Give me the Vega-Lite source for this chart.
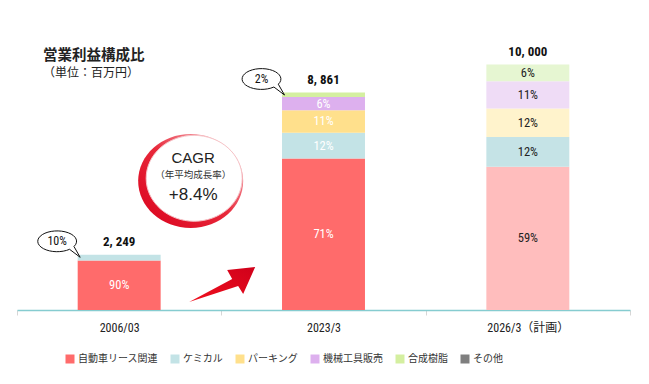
{
  "$schema": "https://vega.github.io/schema/vega-lite/v6.json",
  "width": 613,
  "height": 270,
  "autosize": "none",
  "padding": {"left": 17, "top": 40, "right": 19, "bottom": 74},
  "background": "white",
  "title": {
    "text": "営業利益構成比",
    "subtitle": "（単位：百万円）",
    "anchor": "start",
    "frame": "group",
    "font": "Noto Sans CJK JP",
    "fontSize": 14.5,
    "fontWeight": "bold",
    "color": "#222",
    "subtitleFont": "Noto Sans CJK JP",
    "subtitleFontSize": 12,
    "subtitleColor": "#222",
    "subtitlePadding": 5,
    "offset": 0,
    "dx": 26,
    "dy": 40
  },
  "config": {
    "view": {"stroke": null},
    "text": {"font": "Liberation Sans Narrow, Roboto Condensed, DejaVu Sans Condensed, Liberation Sans, Noto Sans CJK JP"}
  },
  "datasets": {
    "segments": [
      {"period": "2006/03", "category": "自動車リース関連", "series": "自動車リース関連", "rank": 1, "value": 2015, "label": "90%", "callout": ""},
      {"period": "2006/03", "category": "ケミカル", "series": "ケミカル", "rank": 2, "value": 234, "label": "", "callout": "10%"},
      {"period": "2023/3", "category": "自動車リース関連", "series": "自動車リース関連", "rank": 1, "value": 6175, "label": "71%", "callout": ""},
      {"period": "2023/3", "category": "ケミカル", "series": "ケミカル", "rank": 2, "value": 1051, "label": "12%", "callout": ""},
      {"period": "2023/3", "category": "パーキング", "series": "パーキング", "rank": 3, "value": 912, "label": "11%", "callout": ""},
      {"period": "2023/3", "category": "機械工具販売", "series": "機械工具販売", "rank": 4, "value": 543, "label": "6%", "callout": ""},
      {"period": "2023/3", "category": "合成樹脂", "series": "合成樹脂", "rank": 5, "value": 180, "label": "", "callout": "2%"},
      {"period": "2026/3（計画）", "category": "自動車リース関連", "series": "自動車リース関連（計画）", "rank": 1, "value": 5832, "label": "59%", "callout": ""},
      {"period": "2026/3（計画）", "category": "ケミカル", "series": "ケミカル（計画）", "rank": 2, "value": 1221, "label": "12%", "callout": ""},
      {"period": "2026/3（計画）", "category": "パーキング", "series": "パーキング（計画）", "rank": 3, "value": 1156, "label": "12%", "callout": ""},
      {"period": "2026/3（計画）", "category": "機械工具販売", "series": "機械工具販売（計画）", "rank": 4, "value": 1111, "label": "11%", "callout": ""},
      {"period": "2026/3（計画）", "category": "合成樹脂", "series": "合成樹脂（計画）", "rank": 5, "value": 680, "label": "6%", "callout": ""}
    ],
    "totals": [
      {"period": "2006/03", "total": 2249, "label": "2, 249"},
      {"period": "2023/3", "total": 8861, "label": "8, 861"},
      {"period": "2026/3（計画）", "total": 10000, "label": "10, 000"}
    ],
    "cagr": [
      {"period": "2006/03", "pos": 5255, "title": "CAGR", "note": "（年平均成長率）", "rate": "+8.4%"}
    ],
    "growth": [
      {"period": "2006/03", "pos": 1059}
    ]
  },
  "encoding": {
    "x": {
      "field": "period",
      "type": "nominal",
      "scale": {"domain": ["2006/03", "2023/3", "2026/3（計画）"], "paddingInner": 0, "paddingOuter": 0},
      "axis": {
        "title": null,
        "labelAngle": 0,
        "domainColor": "#86CCD0",
        "domainWidth": 1.5,
        "tickColor": "#d6d6d6",
        "tickSize": 5,
        "tickWidth": 1,
        "tickBand": "extent",
        "labelFont": "Liberation Sans Narrow, Roboto Condensed, DejaVu Sans Condensed, Liberation Sans, Noto Sans CJK JP",
        "labelFontSize": 12,
        "labelColor": "#222",
        "labelPadding": 7
      }
    }
  },
  "layer": [
    {
      "data": {"name": "segments"},
      "mark": {"type": "bar", "width": {"band": 0.406}},
      "encoding": {
        "y": {"field": "value", "type": "quantitative", "stack": "zero", "scale": {"domain": [0, 11000], "nice": false}, "axis": null},
        "color": {
          "field": "series",
          "type": "nominal",
          "scale": {
            "domain": ["自動車リース関連", "ケミカル", "パーキング", "機械工具販売", "合成樹脂", "その他", "自動車リース関連（計画）", "ケミカル（計画）", "パーキング（計画）", "機械工具販売（計画）", "合成樹脂（計画）"],
            "range": ["#FF6B6B", "#C3E3E6", "#FFE08C", "#DDB0EE", "#D4EFA0", "#7F7F7F", "#FFBDBD", "#C5E3E6", "#FFF3CC", "#EFDCF6", "#E6F6D2"]
          },
          "legend": {
            "values": ["自動車リース関連", "ケミカル", "パーキング", "機械工具販売", "合成樹脂", "その他"],
            "title": null,
            "orient": "none",
            "legendX": 48,
            "legendY": 314,
            "direction": "horizontal",
            "columns": 6,
            "padding": 0,
            "symbolType": "square",
            "symbolSize": 81,
            "symbolStrokeWidth": 0,
            "symbolOpacity": 1,
            "labelFont": "Noto Sans CJK JP",
            "labelFontSize": 10,
            "labelColor": "#333",
            "labelOffset": 3,
            "columnPadding": 12
          }
        },
        "order": {"field": "rank", "type": "quantitative"}
      }
    },
    {
      "data": {"name": "segments"},
      "transform": [
        {"stack": "value", "groupby": ["period"], "sort": [{"field": "rank", "order": "ascending"}], "as": ["v0", "v1"]},
        {"calculate": "(datum.v0 + datum.v1) / 2", "as": "mid"},
        {"filter": "datum.label != ''"}
      ],
      "mark": {"type": "text", "fontSize": 12.5, "baseline": "middle"},
      "encoding": {
        "y": {"field": "mid", "type": "quantitative"},
        "text": {"field": "label"},
        "color": {"condition": {"test": "indexof(datum.period, '計画') >= 0", "value": "#222"}, "value": "#ffffff"}
      }
    },
    {
      "data": {"name": "cagr"},
      "mark": {
        "type": "point",
        "shape": "M-1,0A1,0.895 0 1,1 1,0A1,0.895 0 1,1 -1,0Z",
        "size": 11025,
        "filled": true,
        "opacity": 1,
        "xOffset": 71.5,
        "fill": {"gradient": "linear", "x1": 0, "y1": 1, "x2": 1, "y2": 0, "stops": [{"offset": 0, "color": "#D9001B"}, {"offset": 0.5, "color": "#E8283A"}, {"offset": 1, "color": "#FBD6D9"}]},
        "strokeWidth": 0
      },
      "encoding": {"y": {"field": "pos", "type": "quantitative"}}
    },
    {
      "data": {"name": "cagr"},
      "mark": {
        "type": "point",
        "shape": "M-1,0A1,0.895 0 1,1 1,0A1,0.895 0 1,1 -1,0Z",
        "size": 9216,
        "filled": true,
        "opacity": 1,
        "fill": "#ffffff",
        "stroke": "#F6C4C8",
        "strokeWidth": 1,
        "xOffset": 75,
        "yOffset": -2.7
      },
      "encoding": {"y": {"field": "pos", "type": "quantitative"}}
    },
    {
      "data": {"name": "cagr"},
      "mark": {"type": "text", "font": "Liberation Sans", "fontSize": 15, "color": "#222", "xOffset": 74, "yOffset": -23.3, "baseline": "middle"},
      "encoding": {"y": {"field": "pos", "type": "quantitative"}, "text": {"field": "title"}}
    },
    {
      "data": {"name": "cagr"},
      "mark": {"type": "text", "font": "Noto Sans CJK JP", "fontSize": 9.5, "color": "#333", "xOffset": 74, "yOffset": -6, "baseline": "middle"},
      "encoding": {"y": {"field": "pos", "type": "quantitative"}, "text": {"field": "note"}}
    },
    {
      "data": {"name": "cagr"},
      "mark": {"type": "text", "font": "Liberation Sans", "fontSize": 17, "color": "#222", "xOffset": 74, "yOffset": 14, "baseline": "middle"},
      "encoding": {"y": {"field": "pos", "type": "quantitative"}, "text": {"field": "rate"}}
    },
    {
      "data": {"name": "growth"},
      "mark": {
        "type": "point",
        "shape": "M-0.943,0.514L0.286,-0.143L0.143,-0.4L0.943,-0.486L0.6,0.286L0.457,0.057Z",
        "size": 4900,
        "filled": true,
        "opacity": 1,
        "fill": {"gradient": "linear", "x1": 0, "y1": 1, "x2": 1, "y2": 0, "stops": [{"offset": 0, "color": "#F0101E"}, {"offset": 1, "color": "#D0001A"}]},
        "strokeWidth": 0,
        "xOffset": 103
      },
      "encoding": {"y": {"field": "pos", "type": "quantitative"}}
    },
    {
      "data": {"name": "totals"},
      "mark": {"type": "text", "fontSize": 13, "fontWeight": "bold", "color": "#111", "dy": -13, "baseline": "middle"},
      "encoding": {"y": {"field": "total", "type": "quantitative"}, "text": {"field": "label"}}
    },
    {
      "data": {"name": "segments"},
      "transform": [
        {"stack": "value", "groupby": ["period"], "sort": [{"field": "rank", "order": "ascending"}], "as": ["v0", "v1"]},
        {"filter": "datum.callout != ''"}
      ],
      "mark": {
        "type": "point",
        "shape": "M0.84,0.26L1.15,0.8L0.62,0.40A0.97,0.52 0 1,1 0.84,0.26Z",
        "size": 1600,
        "filled": true,
        "opacity": 1,
        "fill": "#ffffff",
        "stroke": "#111",
        "strokeWidth": 1,
        "xOffset": -62,
        "yOffset": -13.5
      },
      "encoding": {"y": {"field": "v1", "type": "quantitative"}}
    },
    {
      "data": {"name": "segments"},
      "transform": [
        {"stack": "value", "groupby": ["period"], "sort": [{"field": "rank", "order": "ascending"}], "as": ["v0", "v1"]},
        {"filter": "datum.callout != ''"}
      ],
      "mark": {"type": "text", "fontSize": 12, "color": "#111", "xOffset": -62, "yOffset": -13.5, "baseline": "middle"},
      "encoding": {"y": {"field": "v1", "type": "quantitative"}, "text": {"field": "callout"}}
    }
  ]
}
